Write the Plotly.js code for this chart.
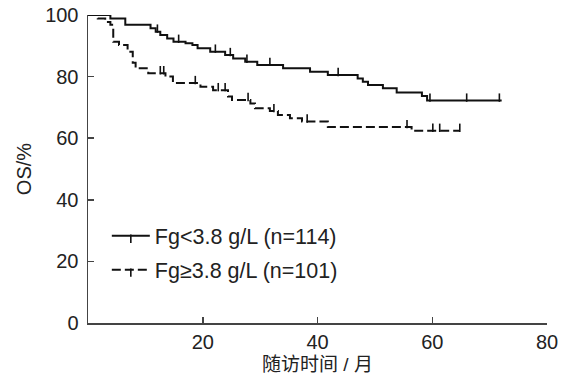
<!DOCTYPE html>
<html>
<head>
<meta charset="utf-8">
<script src="https://cdn.plot.ly/plotly-3.0.1.min.js"></script>
<style>html,body{margin:0;padding:0;background:#fff;}#chart{width:567px;height:374px;}</style>
</head>
<body>
<div id="chart"></div>
<script>
// Fg<3.8 g/L (n=114) — Kaplan-Meier steps (months, OS %)
var lowTime = [0, 3.9, 6.5, 10.9, 11.8, 12.6, 13.8, 14.9, 17.0, 18.2, 19.1, 21.3, 23.9, 25.3, 27.4, 29.5, 34.0, 38.7, 41.8, 47.0, 47.9, 48.8, 51.4, 53.8, 58.2, 59.1, 72.1];
var lowSurv = [100, 98.9, 96.8, 95.7, 94.6, 93.5, 92.4, 91.3, 90.8, 90.3, 89.2, 88.1, 87.0, 85.9, 84.8, 83.8, 82.7, 81.6, 80.5, 79.4, 78.3, 77.3, 76.2, 74.8, 73.7, 72.2, 72.2];
var lowCensor = [12.1, 15.8, 22.2, 24.8, 27.7, 31.7, 43.6, 59.6, 66.0, 71.7];

// Fg>=3.8 g/L (n=101)
var highTime = [0, 1.7, 3.0, 3.9, 4.4, 5.4, 6.9, 7.8, 8.3, 10.5, 13.5, 14.8, 19.6, 21.8, 24.4, 25.1, 28.3, 29.1, 31.7, 33.1, 35.2, 37.3, 41.8, 56.4, 64.8];
var highSurv = [100, 98.9, 97.7, 96.8, 91.3, 90.3, 88.1, 84.5, 82.7, 81.1, 80.0, 77.9, 76.7, 75.6, 73.5, 72.4, 71.3, 69.7, 68.8, 67.5, 66.5, 65.4, 63.6, 62.4, 62.4];
var highCensor = [12.6, 13.2, 18.7, 22.7, 23.9, 27.9, 32.4, 38.2, 55.6, 60.1, 61.3, 64.8];

var seriesNames = ['Fg<3.8 g/L (n=114)', 'Fg\u22653.8 g/L (n=101)'];
var xTicks = [20, 40, 60, 80];
var yTicks = [0, 20, 40, 60, 80, 100];

function stepAt(times, surv, t) {
  var v = surv[0];
  for (var i = 0; i < times.length; i++) { if (times[i] <= t) v = surv[i]; }
  return v;
}
// censor points separated by gaps so no line joins them
function censorXY(times, surv, cens) {
  var xs = [], ys = [];
  cens.forEach(function (t, i) {
    if (i > 0) { xs.push(null); ys.push(null); }
    xs.push(t); ys.push(stepAt(times, surv, t));
  });
  return {x: xs, y: ys};
}

var font = 'Liberation Sans, Arial, Noto Sans CJK SC, sans-serif';

var tickMarker = {symbol: 'line-ns-open', size: 6, angle: 180, standoff: 3, color: '#111', line: {width: 1.6, color: '#111'}};
var lowLine = {shape: 'hv', color: '#111', width: 2};
var highLine = {shape: 'hv', color: '#111', width: 2, dash: '9px,4px'};

var lowC = censorXY(lowTime, lowSurv, lowCensor);
var highC = censorXY(highTime, highSurv, highCensor);

var traces = [
  {x: lowTime, y: lowSurv, type: 'scatter', mode: 'lines', legendgroup: 'a', showlegend: false,
   line: lowLine, cliponaxis: false},
  {x: lowC.x, y: lowC.y, type: 'scatter', mode: 'lines+markers', name: seriesNames[0], legendgroup: 'a',
   connectgaps: false, line: lowLine, marker: tickMarker, cliponaxis: false},
  {x: highTime, y: highSurv, type: 'scatter', mode: 'lines', legendgroup: 'b', showlegend: false,
   line: highLine, cliponaxis: false},
  {x: highC.x, y: highC.y, type: 'scatter', mode: 'lines+markers', name: seriesNames[1], legendgroup: 'b',
   connectgaps: false, line: highLine, marker: tickMarker, cliponaxis: false}
];

var axisCommon = {
  showgrid: false, zeroline: false, showline: true, linecolor: '#444', linewidth: 1.5,
  ticks: 'inside', ticklen: 6, tickwidth: 1.5, tickcolor: '#444',
  tickfont: {family: font, size: 20, color: '#222'}, fixedrange: true
};

var layout = {
  width: 567, height: 374,
  margin: {l: 88, r: 20, t: 15, b: 51, pad: 0},
  paper_bgcolor: '#fff', plot_bgcolor: '#fff',
  showlegend: true,
  legend: {x: 0.041, y: 0.35, xanchor: 'left', yanchor: 'top', bgcolor: 'rgba(0,0,0,0)',
           font: {family: font, size: 21.5, color: '#222'}, tracegroupgap: 3, itemwidth: 38},
  xaxis: Object.assign({}, axisCommon, {range: [0, 80], tickmode: 'array', tickvals: xTicks, ticktext: xTicks.map(String),
    ticklabelstandoff: 0, automargin: false,
    title: {text: '随访时间 / 月', font: {family: font, size: 19, color: '#222'}}}),
  yaxis: Object.assign({}, axisCommon, {range: [0, 100], tickmode: 'array', tickvals: yTicks, ticktext: yTicks.map(String),
    ticklabelstandoff: 4,
    title: {text: 'OS/%', font: {family: font, size: 20, color: '#222'}, standoff: 8}})
};

Plotly.newPlot('chart', traces, layout, {displayModeBar: false, staticPlot: true}).then(function (gd) {
  // nudge x title down slightly to match reference spacing (title is still the axis title)
  var t = gd.querySelector('.g-xtitle text');
  if (t) { t.setAttribute('transform', 'translate(0,1)'); }
});
</script>
</body>
</html>
